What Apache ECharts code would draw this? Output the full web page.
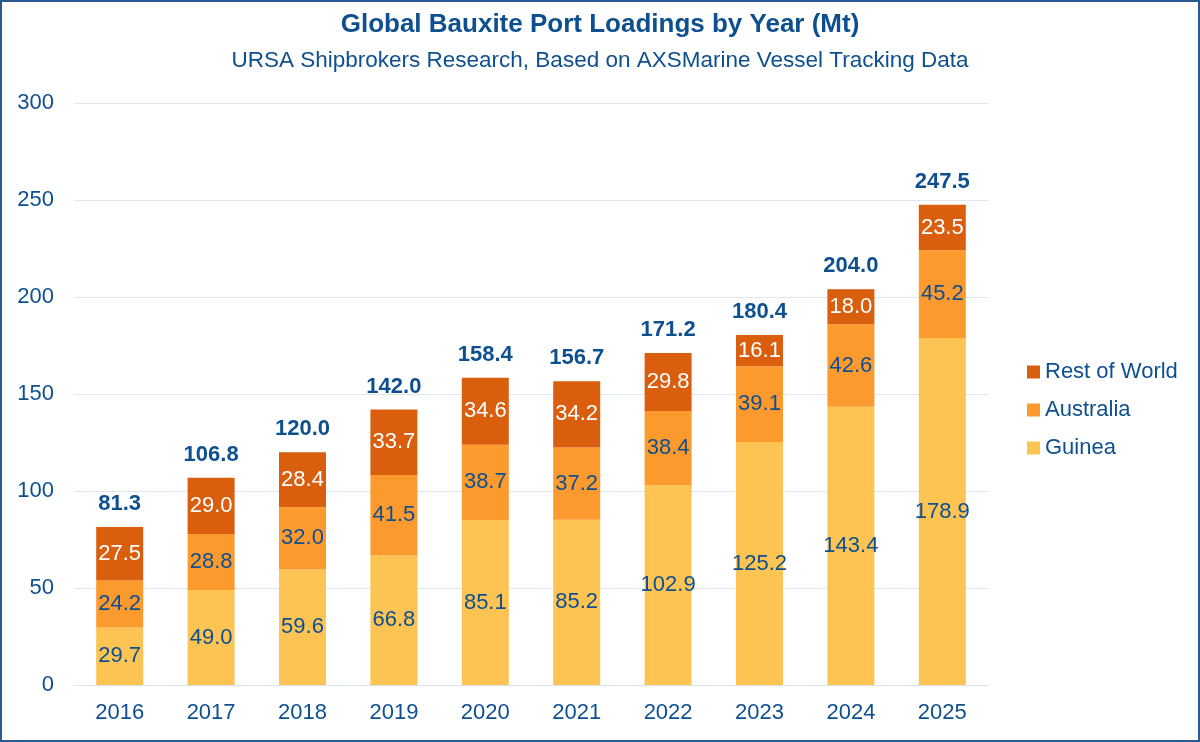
<!DOCTYPE html>
<html>
<head>
    <meta charset="utf-8">
    <title>Global Bauxite Port Loadings by Year (Mt)</title>
    <script src="https://cdn.jsdelivr.net/npm/echarts@6/dist/echarts.min.js"></script>
    <style>
        html, body { margin: 0; padding: 0; background: #fff; }
        #chart { width: 1200px; height: 742px; box-sizing: border-box; border: 2px solid #2a5a94; }
    </style>
</head>
<body>
<div id="chart"></div>
<script>
    // 数据
    var years = ['2016', '2017', '2018', '2019', '2020', '2021', '2022', '2023', '2024', '2025'];
    var guinea = [29.7, 49.0, 59.6, 66.8, 85.1, 85.2, 102.9, 125.2, 143.4, 178.9];
    var australia = [24.2, 28.8, 32.0, 41.5, 38.7, 37.2, 38.4, 39.1, 42.6, 45.2];
    var restOfWorld = [27.5, 29.0, 28.4, 33.7, 34.6, 34.2, 29.8, 16.1, 18.0, 23.5];
    var totals = [81.3, 106.8, 120.0, 142.0, 158.4, 156.7, 171.2, 180.4, 204.0, 247.5];

    var blue = '#0e4f8f';
    var font = 'Liberation Sans, Arial, sans-serif';

    var myChart = echarts.init(document.getElementById('chart'));

    function segLabel(color) {
        return {
            show: true,
            position: 'inside',
            color: color,
            fontSize: 22,
            fontFamily: font,
            formatter: function (p) { return p.value.toFixed(1); }
        };
    }

    myChart.setOption({
        textStyle: { fontFamily: font },
        title: {
            text: 'Global Bauxite Port Loadings by Year (Mt)',
            subtext: 'URSA Shipbrokers Research, Based on AXSMarine Vessel Tracking Data',
            left: 'center',
            top: 5,
            itemGap: 11,
            textStyle: { color: blue, fontSize: 26, fontWeight: 'bold', fontFamily: font },
            subtextStyle: { color: blue, fontSize: 22.5, fontFamily: font }
        },
        legend: {
            orient: 'vertical',
            left: 1020,
            top: 354,
            itemWidth: 13,
            itemHeight: 13,
            itemGap: 16,
            icon: 'rect',
            data: ['Rest of World', 'Australia', 'Guinea'],
            textStyle: { color: blue, fontSize: 22, fontFamily: font }
        },
        grid: { left: 72, right: 210, top: 101, bottom: 55, containLabel: false },
        xAxis: {
            type: 'category',
            data: years,
            axisTick: { show: false },
            axisLine: { lineStyle: { color: '#d9e1ea' } },
            axisLabel: { color: blue, fontSize: 22, margin: 17, fontFamily: font }
        },
        yAxis: {
            type: 'value',
            min: 0,
            max: 300,
            interval: 50,
            axisLabel: { color: blue, fontSize: 22, margin: 20, fontFamily: font },
            splitLine: { lineStyle: { color: '#dfe6ee' } }
        },
        series: [
            {
                name: 'Guinea', type: 'bar', stack: 'total', data: guinea,
                barWidth: 47,
                itemStyle: { color: '#fdc453' },
                label: segLabel(blue)
            },
            {
                name: 'Australia', type: 'bar', stack: 'total', data: australia,
                itemStyle: { color: '#fd9a2e' },
                label: segLabel(blue)
            },
            {
                name: 'Rest of World', type: 'bar', stack: 'total', data: restOfWorld,
                itemStyle: { color: '#d95f0e' },
                label: segLabel('#ffffff')
            },
            {
                // 总量标签
                name: 'Total', type: 'bar', stack: 'total',
                data: totals.map(function () { return 0; }),
                itemStyle: { color: 'transparent' },
                label: {
                    show: true,
                    position: 'top',
                    distance: 12,
                    color: blue,
                    fontSize: 22,
                    fontWeight: 'bold',
                    fontFamily: font,
                    formatter: function (p) { return totals[p.dataIndex].toFixed(1); }
                },
                tooltip: { show: false }
            }
        ]
    });
</script>
</body>
</html>
